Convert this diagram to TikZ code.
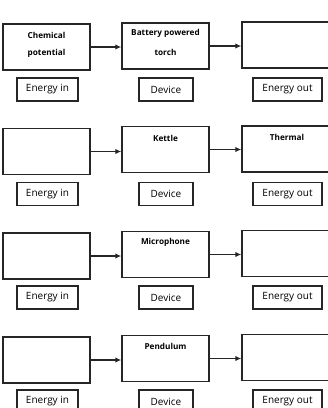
\documentclass[tikz,border=0pt]{standalone}
\usepackage{fontspec}
\setmainfont{Open Sans}
\usetikzlibrary{arrows.meta}

\begin{document}
\begin{tikzpicture}[x=1pt,y=1pt,
  bigbox/.style={draw=black!85,line width=1.4pt,minimum width=87pt,minimum height=46pt,inner sep=0pt},
  outbox/.style={bigbox,minimum width=88pt},
  smallbox/.style={draw=black!85,line width=1.3pt,minimum height=23pt,inner sep=0pt,font=\fontsize{10}{12}\selectfont},
  boxtext/.style={font=\bfseries\fontsize{8.2}{10}\selectfont,inner sep=0pt},
  flow/.style={-{Latex[length=6pt,width=5.5pt]},line width=1.2pt,black!85}]
\useasboundingbox (0,0) rectangle (328,-408);
\clip (0,0) rectangle (328,-408);
\node [bigbox] (in1) at (46.5,-47) {};
\node [bigbox] (dev1) at (165.5,-46) {};
\node [outbox] (out1) at (286,-45) {};
\node [boxtext] (chem1) at (46.5,-35) {Chemical};
\node [boxtext] (chem2) at (46.5,-53) {potential};
\node [boxtext] (torch1) at (165.5,-33) {Battery powered};
\node [boxtext] (torch2) at (165.5,-52) {torch};
\node [smallbox,minimum width=61pt] (ein1) at (47.5,-89.5) {Energy in};
\node [smallbox,minimum width=54pt] (edev1) at (166,-89.5) {Device};
\node [smallbox,minimum width=69pt] (eout1) at (287.5,-89.5) {Energy out};
\draw [flow] (in1.east) -- (in1.east -| dev1.west);
\draw [flow] (dev1.east) -- (dev1.east -| out1.west);
\node [bigbox] (in2) at (46.5,-151.5) {};
\node [bigbox] (dev2) at (165.5,-149.5) {};
\node [outbox] (out2) at (286,-149) {};
\node [boxtext] (kettle) at (165.5,-138) {Kettle};
\node [boxtext] (thermal) at (287,-137) {Thermal};
\node [smallbox,minimum width=61pt] (ein2) at (47.5,-194) {Energy in};
\node [smallbox,minimum width=54pt] (edev2) at (166,-194) {Device};
\node [smallbox,minimum width=69pt] (eout2) at (287.5,-194) {Energy out};
\draw [flow] (in2.east) -- (in2.east -| dev2.west);
\draw [flow] (dev2.east) -- (dev2.east -| out2.west);
\node [bigbox] (in3) at (46.5,-256) {};
\node [bigbox] (dev3) at (165.5,-254.5) {};
\node [outbox] (out3) at (286,-253.5) {};
\node [boxtext] (micro) at (165.5,-242) {Microphone};
\node [smallbox,minimum width=61pt] (ein3) at (47.5,-297.5) {Energy in};
\node [smallbox,minimum width=54pt] (edev3) at (166,-297.5) {Device};
\node [smallbox,minimum width=69pt] (eout3) at (287.5,-297.5) {Energy out};
\draw [flow] (in3.east) -- (in3.east -| dev3.west);
\draw [flow] (dev3.east) -- (dev3.east -| out3.west);
\node [bigbox] (in4) at (46.5,-360) {};
\node [bigbox] (dev4) at (165.5,-358.5) {};
\node [outbox] (out4) at (286,-357.5) {};
\node [boxtext] (pend) at (165.5,-346) {Pendulum};
\node [smallbox,minimum width=61pt] (ein4) at (47.5,-401.5) {Energy in};
\node [smallbox,minimum width=54pt] (edev4) at (166,-401.5) {Device};
\node [smallbox,minimum width=69pt] (eout4) at (287.5,-401.5) {Energy out};
\draw [flow] (in4.east) -- (in4.east -| dev4.west);
\draw [flow] (dev4.east) -- (dev4.east -| out4.west);
\end{tikzpicture}
\end{document}
